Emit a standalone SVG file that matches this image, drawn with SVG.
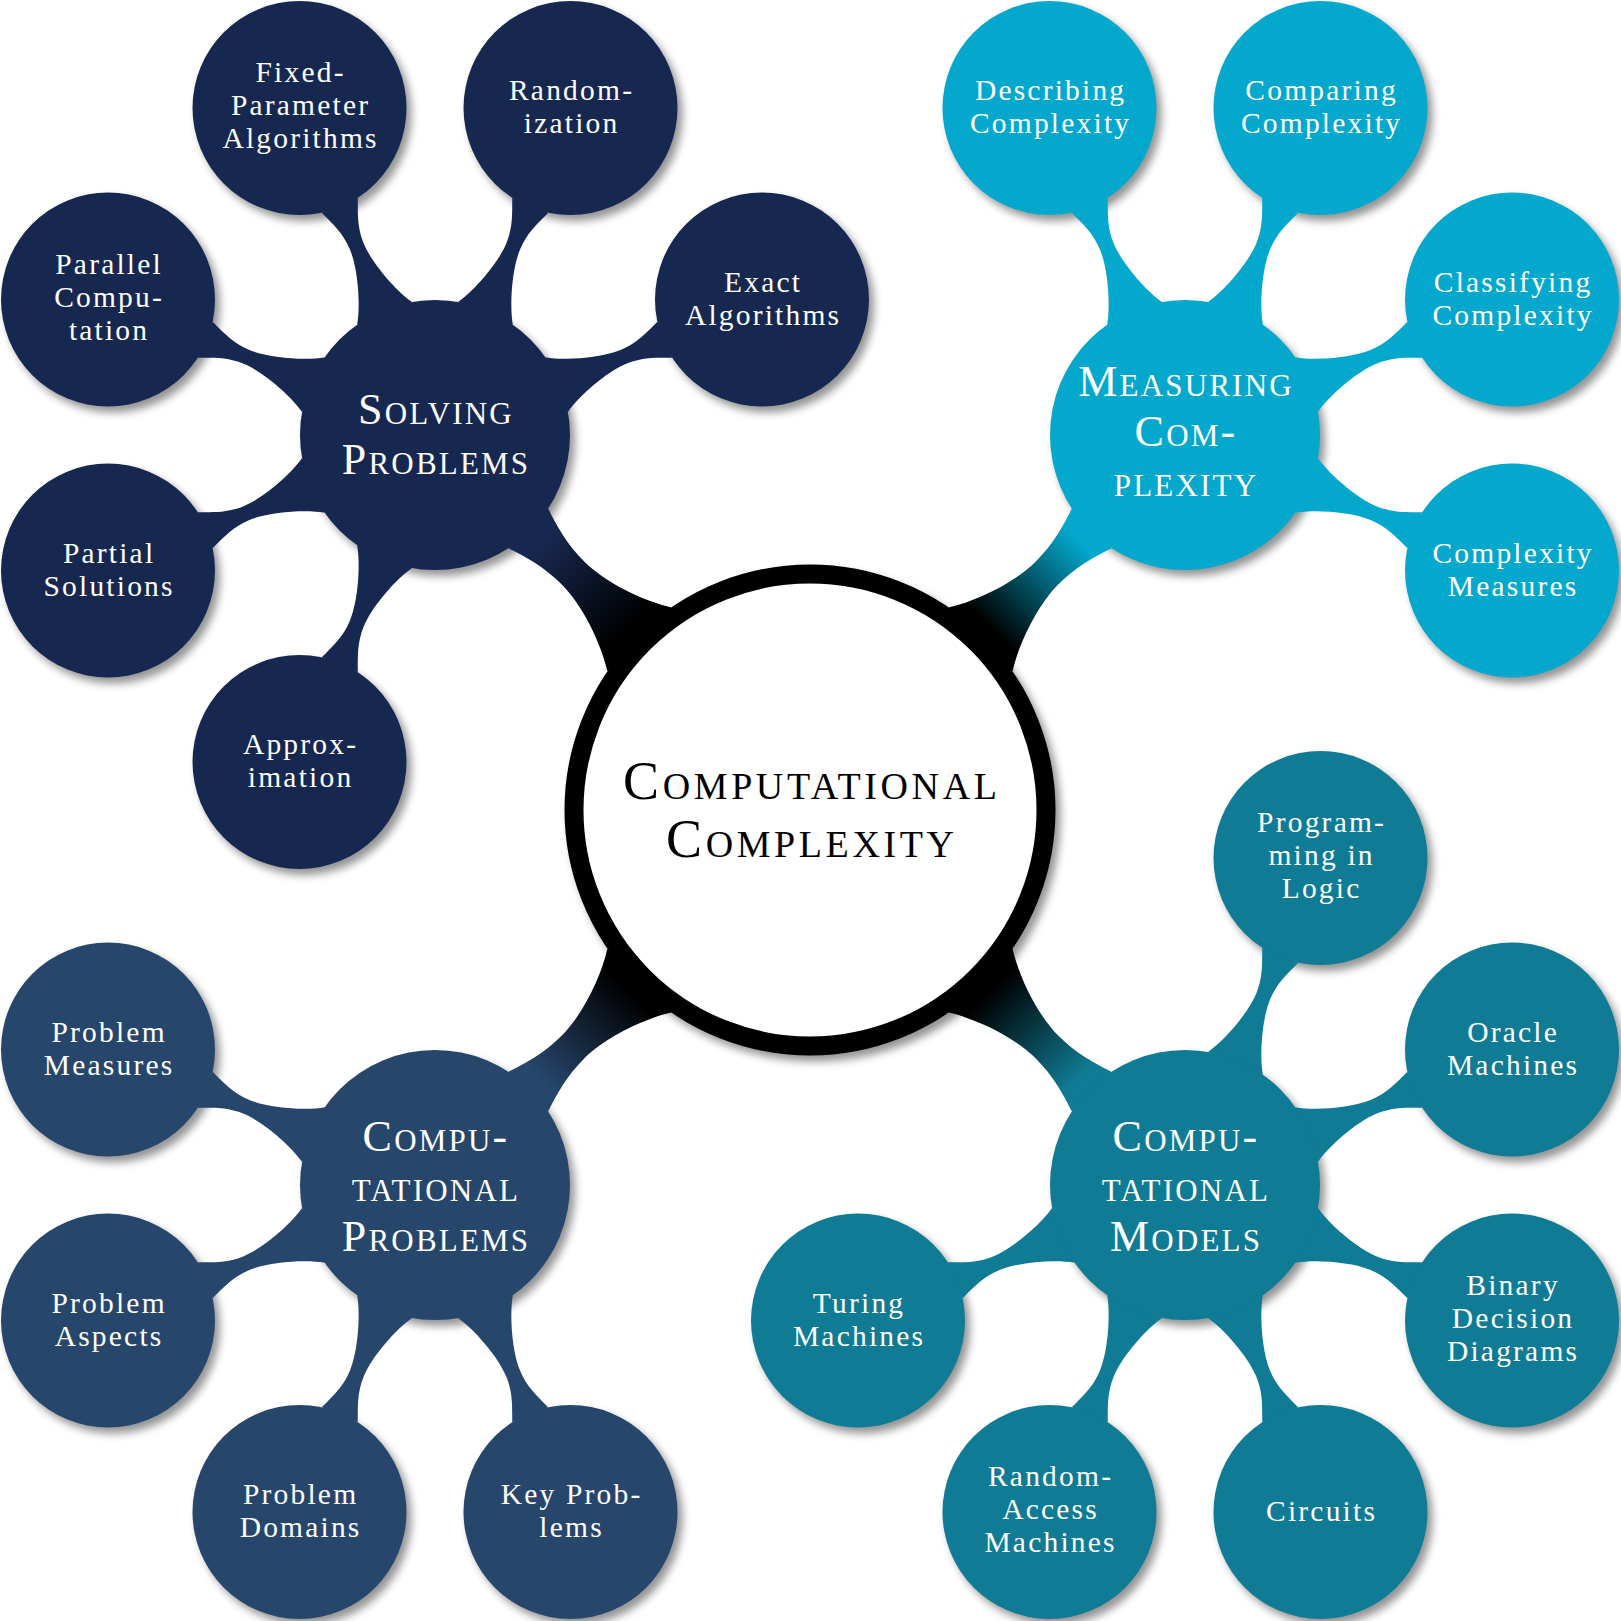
<svg xmlns="http://www.w3.org/2000/svg" width="1621" height="1621" viewBox="0 0 1621 1621">
<defs>
<style>
text{font-family:"Liberation Serif","Times New Roman",serif;text-anchor:middle}
.leaf text{font-size:29.5px;fill:#fff;letter-spacing:2.2px}
.main text{font-size:44px;fill:#fff;font-variant:small-caps;letter-spacing:2.2px}
.root text{font-size:54px;fill:#000;font-variant:small-caps;letter-spacing:3.6px}
.sp{fill:#172850}.mc{fill:#04A8CD}.cp{fill:#27466C}.cm{fill:#0F7B94}
</style>
<filter id="blur" x="-10%" y="-10%" width="120%" height="120%"><feGaussianBlur stdDeviation="4.5"/></filter>
<path id="leafbar" d="M105.2,19.5 C120,13.5 132,7.5 150,7.5 C172,7.5 207,19.7 222.3,29.7 L222.3,-29.7 C207,-19.7 172,-7.5 150,-7.5 C132,-7.5 120,-13.5 105.2,-19.5 Z"/>
<linearGradient id="gSP" gradientUnits="userSpaceOnUse" x1="150" y1="0" x2="275" y2="0"><stop offset="0" stop-color="#172850"/><stop offset="1" stop-color="#000"/></linearGradient>
<linearGradient id="gMC" gradientUnits="userSpaceOnUse" x1="150" y1="0" x2="275" y2="0"><stop offset="0" stop-color="#04A8CD"/><stop offset="1" stop-color="#000"/></linearGradient>
<linearGradient id="gCP" gradientUnits="userSpaceOnUse" x1="150" y1="0" x2="275" y2="0"><stop offset="0" stop-color="#27466C"/><stop offset="1" stop-color="#000"/></linearGradient>
<linearGradient id="gCM" gradientUnits="userSpaceOnUse" x1="150" y1="0" x2="275" y2="0"><stop offset="0" stop-color="#0F7B94"/><stop offset="1" stop-color="#000"/></linearGradient>
</defs>
<rect width="1621" height="1621" fill="#fff"/>
<g id="shadows" fill="#000" opacity="0.42" filter="url(#blur)" transform="translate(5,6)">
<circle cx="810" cy="810" r="245.5"/>
<circle cx="435" cy="435" r="135"/><circle cx="1185" cy="435" r="135"/><circle cx="435" cy="1185" r="135"/><circle cx="1185" cy="1185" r="135"/>
<circle cx="299.5" cy="108" r="107"/><circle cx="570.5" cy="108" r="107"/><circle cx="762" cy="299.5" r="107"/><circle cx="108" cy="299.5" r="107"/><circle cx="108" cy="570.5" r="107"/><circle cx="299.5" cy="762" r="107"/>
<circle cx="1049.5" cy="108" r="107"/><circle cx="1320.5" cy="108" r="107"/><circle cx="1512" cy="299.5" r="107"/><circle cx="1512" cy="570.5" r="107"/>
<circle cx="108" cy="1049.5" r="107"/><circle cx="108" cy="1320.5" r="107"/><circle cx="299.5" cy="1512" r="107"/><circle cx="570.5" cy="1512" r="107"/>
<circle cx="1320.5" cy="858" r="107"/><circle cx="1512" cy="1049.5" r="107"/><circle cx="1512" cy="1320.5" r="107"/><circle cx="1320.5" cy="1512" r="107"/><circle cx="1049.5" cy="1512" r="107"/><circle cx="858" cy="1320.5" r="107"/>
</g>
<g id="connectors">
<path fill="url(#gSP)" transform="translate(435,435) rotate(45)" d="M132,28 C150,22 170,16 195,16 C225,16 265,30 289,45.2 L289,-45.2 C265,-30 225,-16 195,-16 C170,-16 150,-22 132,-28 Z"/>
<path fill="url(#gMC)" transform="translate(1185,435) rotate(135)" d="M132,28 C150,22 170,16 195,16 C225,16 265,30 289,45.2 L289,-45.2 C265,-30 225,-16 195,-16 C170,-16 150,-22 132,-28 Z"/>
<path fill="url(#gCP)" transform="translate(435,1185) rotate(-45)" d="M132,28 C150,22 170,16 195,16 C225,16 265,30 289,45.2 L289,-45.2 C265,-30 225,-16 195,-16 C170,-16 150,-22 132,-28 Z"/>
<path fill="url(#gCM)" transform="translate(1185,1185) rotate(-135)" d="M132,28 C150,22 170,16 195,16 C225,16 265,30 289,45.2 L289,-45.2 C265,-30 225,-16 195,-16 C170,-16 150,-22 132,-28 Z"/>
<g class="sp">
<use href="#leafbar" transform="translate(299.5,108) rotate(67.5)"/>
<use href="#leafbar" transform="translate(570.5,108) rotate(112.5)"/>
<use href="#leafbar" transform="translate(762,299.5) rotate(157.5)"/>
<use href="#leafbar" transform="translate(108,299.5) rotate(22.5)"/>
<use href="#leafbar" transform="translate(108,570.5) rotate(-22.5)"/>
<use href="#leafbar" transform="translate(299.5,762) rotate(-67.5)"/>
</g>
<g class="mc">
<use href="#leafbar" transform="translate(1049.5,108) rotate(67.5)"/>
<use href="#leafbar" transform="translate(1320.5,108) rotate(112.5)"/>
<use href="#leafbar" transform="translate(1512,299.5) rotate(157.5)"/>
<use href="#leafbar" transform="translate(1512,570.5) rotate(202.5)"/>
</g>
<g class="cp">
<use href="#leafbar" transform="translate(108,1049.5) rotate(22.5)"/>
<use href="#leafbar" transform="translate(108,1320.5) rotate(-22.5)"/>
<use href="#leafbar" transform="translate(299.5,1512) rotate(-67.5)"/>
<use href="#leafbar" transform="translate(570.5,1512) rotate(-112.5)"/>
</g>
<g class="cm">
<use href="#leafbar" transform="translate(1320.5,858) rotate(112.5)"/>
<use href="#leafbar" transform="translate(1512,1049.5) rotate(157.5)"/>
<use href="#leafbar" transform="translate(1512,1320.5) rotate(202.5)"/>
<use href="#leafbar" transform="translate(1320.5,1512) rotate(247.5)"/>
<use href="#leafbar" transform="translate(1049.5,1512) rotate(292.5)"/>
<use href="#leafbar" transform="translate(858,1320.5) rotate(337.5)"/>
</g>
</g>
<g id="root" class="root"><circle cx="810" cy="810" r="236" fill="#fff" stroke="#000" stroke-width="19"/><text x="811.8" y="799">Computational</text><text x="811.8" y="857">Complexity</text></g>
<g id="solving-problems" class="main"><circle class="sp" cx="435" cy="435" r="135"/><text x="436" y="424">Solving</text><text x="436" y="474">Problems</text></g>
<g id="measuring-complexity" class="main"><circle class="mc" cx="1185" cy="435" r="135"/><text x="1186" y="396">Measuring</text><text x="1186" y="446">Com-</text><text x="1186" y="496">plexity</text></g>
<g id="computational-problems" class="main"><circle class="cp" cx="435" cy="1185" r="135"/><text x="436" y="1151">Compu-</text><text x="436" y="1201">tational</text><text x="436" y="1251">Problems</text></g>
<g id="computational-models" class="main"><circle class="cm" cx="1185" cy="1185" r="135"/><text x="1186" y="1151">Compu-</text><text x="1186" y="1201">tational</text><text x="1186" y="1251">Models</text></g>
<g id="fixed-parameter" class="leaf"><circle class="sp" cx="299.5" cy="108" r="107"/><text x="300.6" y="82">Fixed-</text><text x="300.6" y="115">Parameter</text><text x="300.6" y="148">Algorithms</text></g>
<g id="randomization" class="leaf"><circle class="sp" cx="570.5" cy="108" r="107"/><text x="571.6" y="100">Random-</text><text x="571.6" y="133">ization</text></g>
<g id="exact-algorithms" class="leaf"><circle class="sp" cx="762" cy="299.5" r="107"/><text x="763.1" y="291.5">Exact</text><text x="763.1" y="324.5">Algorithms</text></g>
<g id="parallel-computation" class="leaf"><circle class="sp" cx="108" cy="299.5" r="107"/><text x="109.1" y="273.5">Parallel</text><text x="109.1" y="306.5">Compu-</text><text x="109.1" y="339.5">tation</text></g>
<g id="partial-solutions" class="leaf"><circle class="sp" cx="108" cy="570.5" r="107"/><text x="109.1" y="562.5">Partial</text><text x="109.1" y="595.5">Solutions</text></g>
<g id="approximation" class="leaf"><circle class="sp" cx="299.5" cy="762" r="107"/><text x="300.6" y="754">Approx-</text><text x="300.6" y="787">imation</text></g>
<g id="describing-complexity" class="leaf"><circle class="mc" cx="1049.5" cy="108" r="107"/><text x="1050.6" y="100">Describing</text><text x="1050.6" y="133">Complexity</text></g>
<g id="comparing-complexity" class="leaf"><circle class="mc" cx="1320.5" cy="108" r="107"/><text x="1321.6" y="100">Comparing</text><text x="1321.6" y="133">Complexity</text></g>
<g id="classifying-complexity" class="leaf"><circle class="mc" cx="1512" cy="299.5" r="107"/><text x="1513.1" y="291.5">Classifying</text><text x="1513.1" y="324.5">Complexity</text></g>
<g id="complexity-measures" class="leaf"><circle class="mc" cx="1512" cy="570.5" r="107"/><text x="1513.1" y="562.5">Complexity</text><text x="1513.1" y="595.5">Measures</text></g>
<g id="problem-measures" class="leaf"><circle class="cp" cx="108" cy="1049.5" r="107"/><text x="109.1" y="1041.5">Problem</text><text x="109.1" y="1074.5">Measures</text></g>
<g id="problem-aspects" class="leaf"><circle class="cp" cx="108" cy="1320.5" r="107"/><text x="109.1" y="1312.5">Problem</text><text x="109.1" y="1345.5">Aspects</text></g>
<g id="problem-domains" class="leaf"><circle class="cp" cx="299.5" cy="1512" r="107"/><text x="300.6" y="1504">Problem</text><text x="300.6" y="1537">Domains</text></g>
<g id="key-problems" class="leaf"><circle class="cp" cx="570.5" cy="1512" r="107"/><text x="571.6" y="1504">Key Prob-</text><text x="571.6" y="1537">lems</text></g>
<g id="programming-in-logic" class="leaf"><circle class="cm" cx="1320.5" cy="858" r="107"/><text x="1321.6" y="832">Program-</text><text x="1321.6" y="865">ming in</text><text x="1321.6" y="898">Logic</text></g>
<g id="oracle-machines" class="leaf"><circle class="cm" cx="1512" cy="1049.5" r="107"/><text x="1513.1" y="1041.5">Oracle</text><text x="1513.1" y="1074.5">Machines</text></g>
<g id="binary-decision-diagrams" class="leaf"><circle class="cm" cx="1512" cy="1320.5" r="107"/><text x="1513.1" y="1294.5">Binary</text><text x="1513.1" y="1327.5">Decision</text><text x="1513.1" y="1360.5">Diagrams</text></g>
<g id="circuits" class="leaf"><circle class="cm" cx="1320.5" cy="1512" r="107"/><text x="1321.6" y="1521">Circuits</text></g>
<g id="random-access-machines" class="leaf"><circle class="cm" cx="1049.5" cy="1512" r="107"/><text x="1050.6" y="1486">Random-</text><text x="1050.6" y="1519">Access</text><text x="1050.6" y="1552">Machines</text></g>
<g id="turing-machines" class="leaf"><circle class="cm" cx="858" cy="1320.5" r="107"/><text x="859.1" y="1312.5">Turing</text><text x="859.1" y="1345.5">Machines</text></g>
</svg>
